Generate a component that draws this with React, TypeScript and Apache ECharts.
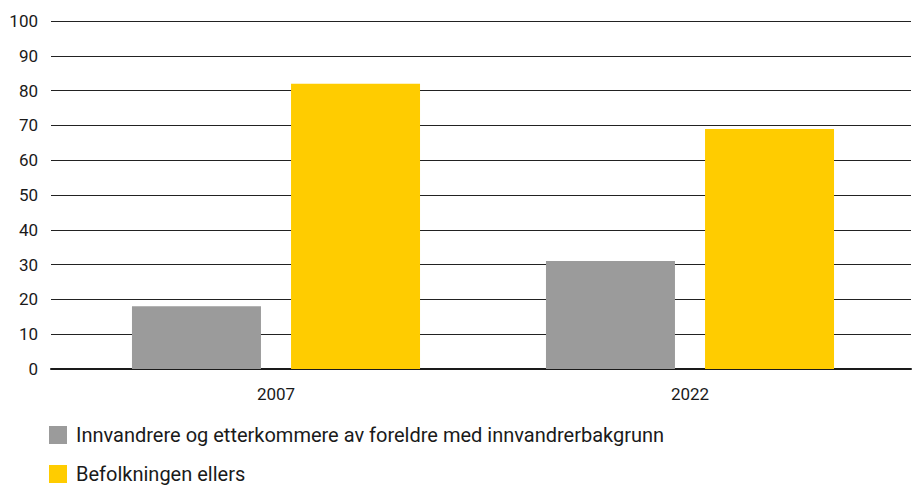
import React, { useEffect, useRef } from "react";
import * as echarts from "echarts";

const categories = ["2007", "2022"];
const seriesNames = [
  "Innvandrere og etterkommere av foreldre med innvandrerbakgrunn",
  "Befolkningen ellers",
];
const immigrantValues = [18, 31];
const restValues = [82, 69];
const colors = ["#9b9b9b", "#ffcc00"];

export default function App() {
  const ref = useRef<HTMLDivElement>(null);
  useEffect(() => {
    if (!ref.current) return;
    const chart = echarts.init(ref.current, undefined, { renderer: "svg" });
    const font = "Roboto, 'Noto Sans', sans-serif";
    const top = 21;
    const bottom = 485 - 369;
    const legendBase = {
      orient: "vertical",
      left: 49,
      padding: 0,
      itemWidth: 18,
      itemHeight: 18,
      icon: "rect",
      textStyle: { fontSize: 20, lineHeight: 24, color: "#1a1a1a", fontFamily: font, padding: [0, 0, 0, 4] },
    };
    chart.setOption({
      animation: false,
      textStyle: { fontFamily: font },
      grid: [
        { left: 51, right: 1, top, bottom },
        { left: 69, right: 15, top, bottom },
      ],
      legend: [
        { ...legendBase, top: 423, data: [seriesNames[0]] },
        { ...legendBase, top: 462, data: [seriesNames[1]] },
      ],
      xAxis: [
        {
          type: "category",
          gridIndex: 0,
          data: categories,
          axisLine: { show: true, lineStyle: { color: "#1a1a1a", width: 2 } },
          axisTick: { show: false },
          axisLabel: { show: false },
        },
        {
          type: "category",
          gridIndex: 1,
          data: categories,
          axisLine: { show: false },
          axisTick: { show: false },
          axisLabel: { fontSize: 17, color: "#1a1a1a", margin: 16, fontFamily: font },
        },
      ],
      yAxis: [
        {
          type: "value",
          gridIndex: 0,
          min: 0,
          max: 100,
          interval: 10,
          axisLine: { show: false },
          axisTick: { show: false },
          axisLabel: { fontSize: 17, color: "#1a1a1a", margin: 13, fontFamily: font },
          splitLine: { show: true, lineStyle: { color: "#222", width: 1 } },
        },
        {
          type: "value",
          gridIndex: 1,
          min: 0,
          max: 100,
          interval: 10,
          show: false,
          splitLine: { show: false },
        },
      ],
      series: [
        {
          name: seriesNames[0],
          type: "bar",
          xAxisIndex: 1,
          yAxisIndex: 1,
          data: immigrantValues,
          barWidth: 129,
          barGap: "23.3%",
          itemStyle: { color: colors[0] },
        },
        {
          name: seriesNames[1],
          type: "bar",
          xAxisIndex: 1,
          yAxisIndex: 1,
          data: restValues,
          barWidth: 129,
          barGap: "23.3%",
          itemStyle: { color: colors[1] },
        },
      ],
    });
    return () => chart.dispose();
  }, []);
  return <div ref={ref} style={{ width: 912, height: 485, position: "absolute", left: 0, top: 0 }} />;
}
